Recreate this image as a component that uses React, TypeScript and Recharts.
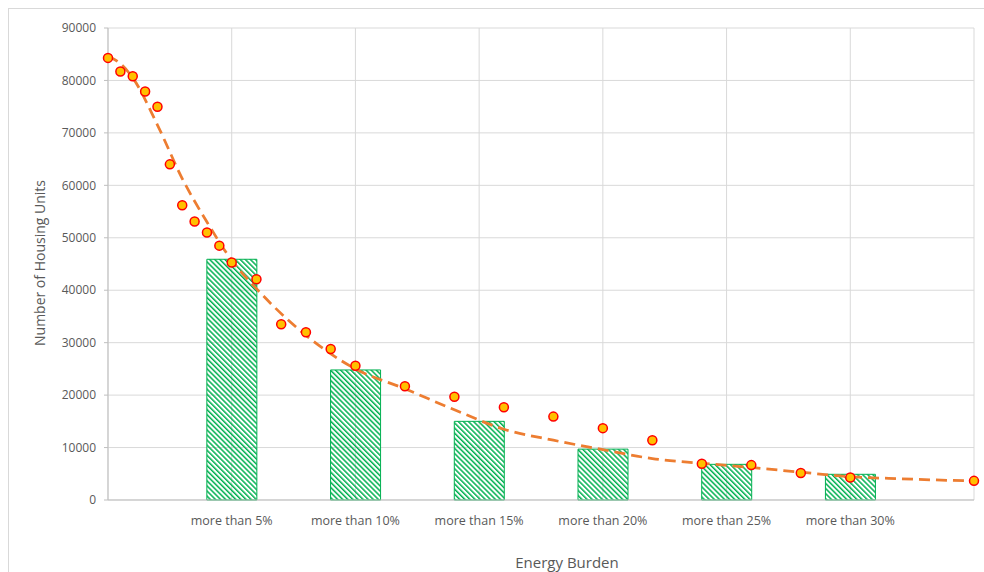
import { ComposedChart, Bar, Line, Scatter, XAxis, YAxis, CartesianGrid } from 'recharts'

// energy burden (%) vs number of housing units
const pointPct = [0, 0.5, 1, 1.5, 2, 2.5, 3, 3.5, 4, 4.5, 5, 6, 7, 8, 9, 10, 12, 14, 16, 18, 20, 22, 24, 26, 28, 30, 35]
const pointUnits = [
  84300, 81700, 80800, 77900, 75000, 64000, 56200, 53100, 51000, 48500, 45300, 42100, 33500, 32000,
  28800, 25600, 21700, 19700, 17700, 15900, 13700, 11400, 6900, 6650, 5150, 4300, 3650,
]

// bars: units with burden above each threshold
const thresholds = [5, 10, 15, 20, 25, 30]
const unitsAbove = [45900, 24800, 15000, 9700, 6800, 4900]

// dashed trend line
const trendPct = [0, 0.5, 1, 2, 3, 4, 5, 6, 8, 10, 12, 14, 16, 18, 20, 22, 24, 26, 28, 30, 32, 35]
const trendUnits = [
  84600, 83200, 80500, 71500, 61300, 53000, 45700, 40300, 31400, 25000, 21200, 17200, 13500, 11400,
  9600, 7900, 7000, 6200, 5300, 4450, 4050, 3620,
]

const xTicks = [5, 10, 15, 20, 25, 30, 35]
const yTicks = [0, 10000, 20000, 30000, 40000, 50000, 60000, 70000, 80000, 90000]

const barRows = thresholds.map((pct, i) => ({ pct, above: unitsAbove[i] }))
const pointRows = pointPct.map((pct, i) => ({ pct, units: pointUnits[i] }))
const trendRows = trendPct.map((pct, i) => ({ pct, trend: trendUnits[i] }))

const INK = '#595959'
const GRID = '#D9D9D9'
const AXIS = '#BFBFBF'
const FONT = '"Open Sans", sans-serif'

function Dot(props: any) {
  const { cx, cy } = props
  if (cx == null || cy == null) return null
  return <circle cx={cx} cy={cy} r={4.5} fill="#FFC000" stroke="#FF0000" strokeWidth={1.5} />
}

export default function App() {
  return (
    <div
      style={{
        position: 'fixed',
        left: 0,
        top: 0,
        width: 984,
        height: 572,
        overflow: 'hidden',
        background: '#fff',
      }}
    >
      <div
        style={{
          position: 'absolute',
          left: 8,
          top: 8,
          width: 1000,
          height: 600,
          borderLeft: `1px solid ${GRID}`,
          borderTop: `1px solid ${GRID}`,
        }}
      />
      <div style={{ position: 'absolute', left: 0, top: 0 }}>
        <ComposedChart
          width={984}
          height={572}
          data={barRows}
          margin={{ top: 28, right: 10, bottom: 42, left: 0 }}
        >
          <defs>
            <pattern
              id="hatch"
              width={3.6}
              height={3.6}
              patternUnits="userSpaceOnUse"
              patternTransform="rotate(-45)"
            >
              <rect width={1.5} height={3.6} fill="#00B050" />
            </pattern>
          </defs>
          <CartesianGrid stroke={GRID} />
          <XAxis
            dataKey="pct"
            type="number"
            domain={[0, 35]}
            ticks={xTicks}
            tickFormatter={(v: number) => (v < 35 ? `more than ${v}%` : '')}
            tickLine={false}
            tickMargin={10}
            axisLine={{ stroke: AXIS }}
            tick={{ fill: INK, fontSize: 12.5, fontFamily: FONT }}
            height={30}
            label={{
              content: () => (
                <text x={567} y={568} textAnchor="middle" fill={INK} fontSize={15} fontFamily={FONT}>
                  Energy Burden
                </text>
              ),
            }}
          />
          {/* separate hidden axis so the bar width is not squeezed by the 0.5% point spacing */}
          <XAxis xAxisId="bars" dataKey="pct" type="number" domain={[0, 35]} hide />
          <YAxis
            type="number"
            domain={[0, 90000]}
            ticks={yTicks}
            width={108}
            tickSize={4}
            tickMargin={8}
            tickLine={{ stroke: AXIS }}
            axisLine={{ stroke: AXIS }}
            tick={{ fill: INK, fontSize: 12, fontFamily: FONT }}
            label={{
              content: () => (
                <text
                  x={45}
                  y={263}
                  transform="rotate(-90, 45, 263)"
                  textAnchor="middle"
                  fill={INK}
                  fontSize={14}
                  fontFamily={FONT}
                >
                  Number of Housing Units
                </text>
              ),
            }}
          />
          <Bar
            xAxisId="bars"
            dataKey="above"
            barSize={50}
            fill="url(#hatch)"
            stroke="#00B050"
            strokeWidth={1}
            isAnimationActive={false}
          />
          <Line
            data={trendRows}
            dataKey="trend"
            type="monotone"
            stroke="#ED7D31"
            strokeWidth={2.75}
            strokeDasharray="11 6"
            dot={false}
            activeDot={false}
            isAnimationActive={false}
          />
          <Scatter data={pointRows} dataKey="units" shape={<Dot />} isAnimationActive={false} />
        </ComposedChart>
      </div>
    </div>
  )
}
